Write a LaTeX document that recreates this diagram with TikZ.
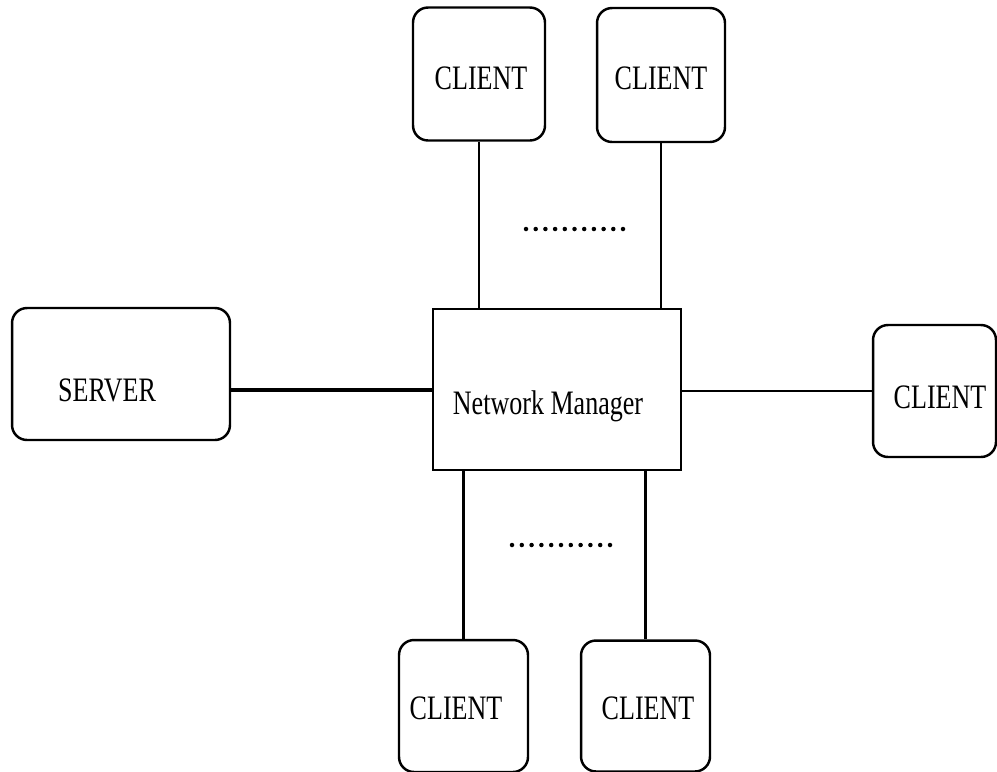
\documentclass[tikz,border=0pt]{standalone}
\usepackage{fontspec}
\setmainfont{Liberation Serif}[FakeStretch=0.76]
\begin{document}
\begin{tikzpicture}[x=0.02cm,y=-0.02cm,
  rbox/.style={draw, line width=1.4pt, rounded corners=0.3cm, inner sep=0pt},
  sqbox/.style={draw, line width=0.9pt, inner sep=0pt},
  lbl/.style={inner sep=0pt, font=\fontsize{19.5}{21}\selectfont},
  link/.style={line width=1.2pt},
  thick link/.style={line width=2.6pt},
  dotmark/.style={fill=black}]
\useasboundingbox (0,0) rectangle (997,771);
% boxes
\node[rbox, minimum width=2.64cm, minimum height=2.66cm] (c1) at (479,74) {};
\node[rbox, minimum width=2.56cm, minimum height=2.68cm] (c2) at (661,75) {};
\node[rbox, minimum width=4.36cm, minimum height=2.64cm] (srv) at (121,374) {};
\node[sqbox, minimum width=4.96cm, minimum height=3.22cm] (nm) at (557,389.5) {};
\node[rbox, minimum width=2.46cm, minimum height=2.64cm] (rc) at (934.5,391) {};
\node[rbox, minimum width=2.58cm, minimum height=2.64cm] (b1) at (463.5,706) {};
\node[rbox, minimum width=2.58cm, minimum height=2.62cm] (b2) at (645.5,706) {};
% labels
\node[lbl] (t1) at (481,78) {CLIENT};
\node[lbl] (t2) at (661,78) {CLIENT};
\node[lbl] (ts) at (107,390) {SERVER};
\node[lbl] (tn) at (548,406) {Network Manager};
\node[lbl] (tr) at (940,397) {CLIENT};
\node[lbl] (tb1) at (456,708) {CLIENT};
\node[lbl] (tb2) at (648,708) {CLIENT};
% connectors
\draw[link] (c1.south) -- (c1.south |- nm.north);
\draw[link] (c2.south) -- (c2.south |- nm.north);
\draw[link] (b1.north) -- (b1.north |- nm.south);
\draw[link] (b2.north) -- (b2.north |- nm.south);
\draw[thick link] (srv.east |- ts) -- (nm.west |- ts);
\draw[link] (nm.east |- rc.center) -- (rc.west);
% dots
\foreach \i in {0,...,10} {
  \fill[dotmark] (526+\i*9.7,229) circle (0.045cm);
  \fill[dotmark] (512+\i*9.8,545) circle (0.045cm);
}
\end{tikzpicture}
\end{document}
